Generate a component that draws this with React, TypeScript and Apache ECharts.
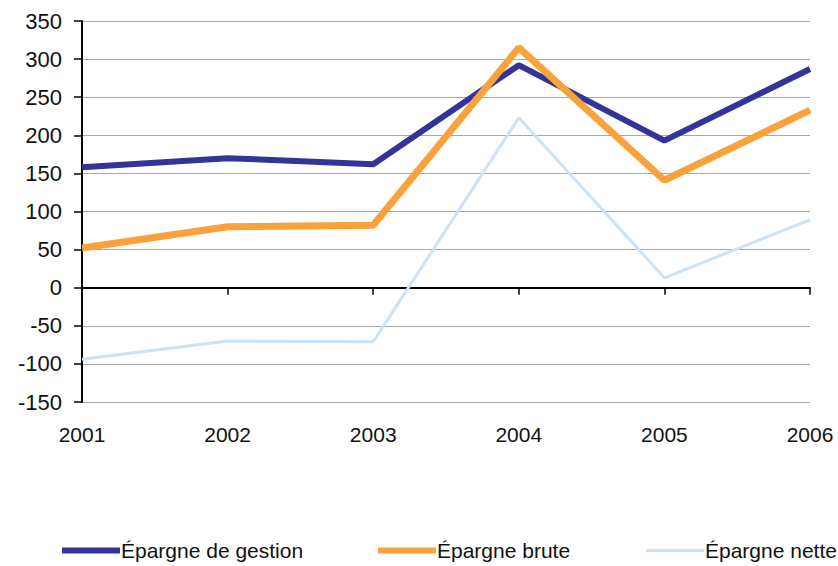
import React, { useEffect, useRef } from "react";
import * as echarts from "echarts";

const years = ["2001", "2002", "2003", "2004", "2005", "2006"];
const gestion = [158, 170, 162, 292, 193, 287];
const brute = [52, 80, 82, 315, 141, 233];
const nette = [-94, -70, -71, 223, 13, 89];

const names = ["Épargne de gestion", "Épargne brute", "Épargne nette"];
const colors = ["#333399", "#f9a13a", "#cde3f5"];
const widths = [6, 7, 3];
const legendLefts = [57, 373, 641];
const legendIconHeights = [6, 6, 3];

const FONT = "'Liberation Sans', Arial, sans-serif";

export default function App() {
  const ref = useRef<HTMLDivElement>(null);
  useEffect(() => {
    if (!ref.current) return;
    const chart = echarts.init(ref.current, undefined, { renderer: "svg" });
    const values = [gestion, brute, nette];
    chart.setOption({
      animation: false,
      backgroundColor: "#ffffff",
      textStyle: { fontFamily: FONT },
      grid: { left: 82, top: 21, right: 28, bottom: 164, containLabel: false },
      xAxis: [
        {
          type: "category",
          data: years,
          boundaryGap: false,
          position: "bottom",
          axisLine: { show: false, onZero: false },
          axisTick: { show: false },
          splitLine: { show: false },
          axisLabel: { margin: 22, fontSize: 21, color: "#111", fontFamily: FONT },
        },
        {
          type: "category",
          data: years,
          boundaryGap: false,
          position: "bottom",
          axisLine: { show: true, onZero: true, lineStyle: { color: "#000", width: 2 } },
          axisTick: { show: true, length: 7, lineStyle: { color: "#000", width: 1.5 } },
          axisLabel: { show: false },
          splitLine: { show: false },
        },
      ],
      yAxis: {
        type: "value",
        min: -150,
        max: 350,
        interval: 50,
        axisLine: { show: true, lineStyle: { color: "#000", width: 2 } },
        axisTick: { show: true, length: 8, lineStyle: { color: "#000", width: 1.5 } },
        axisLabel: { margin: 20, fontSize: 22, color: "#111", fontFamily: FONT },
        splitLine: { show: true, lineStyle: { color: "#a8a8a8", width: 1 } },
      },
      legend: names.map((n, i) => ({
        data: [n],
        left: legendLefts[i],
        top: 535,
        itemWidth: 58,
        itemHeight: legendIconHeights[i],
        icon: "rect",
        itemStyle: { color: colors[i] },
        textStyle: { fontSize: 21, color: "#111", fontFamily: FONT, padding: [0, 0, 0, -4] },
      })),
      series: names.map((n, i) => ({
        name: n,
        type: "line",
        data: values[i],
        symbol: "none",
        showSymbol: false,
        lineStyle: { color: colors[i], width: widths[i] },
        itemStyle: { color: colors[i] },
        z: 3 + i,
      })),
    });
    return () => chart.dispose();
  }, []);
  return (
    <div
      ref={ref}
      style={{ position: "absolute", left: 0, top: 0, width: 838, height: 566, background: "#fff" }}
    />
  );
}
